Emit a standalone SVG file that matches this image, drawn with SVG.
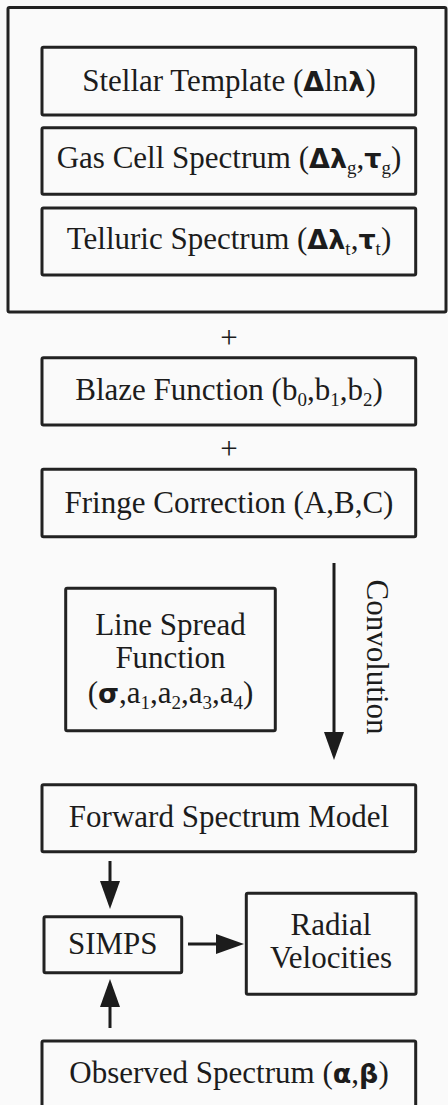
<svg xmlns="http://www.w3.org/2000/svg" width="448" height="1105" viewBox="0 0 448 1105">
  <defs>
    <style>
      .box { fill: none; stroke: #222; stroke-width: 3; }
      .lbl { font-family: "Liberation Serif", "DejaVu Serif", serif; font-size: 31px; fill: #1c1c1c; text-anchor: middle; }
      .gk { font-family: "DejaVu Sans", "Liberation Sans", sans-serif; font-weight: bold; font-size: 27px; }
      .sb { font-size: 19px; }
      .conn { stroke: #1c1c1c; stroke-width: 3; fill: none; }
    </style>
    <marker id="head" markerUnits="userSpaceOnUse" markerWidth="28" markerHeight="20" refX="20" refY="10" orient="auto">
      <path d="M0,0 L28,10 L0,20 Z" fill="#1c1c1c"/>
    </marker>
  </defs>

  <rect x="0" y="0" width="448" height="1105" fill="#fafafa"/>

  <!-- container of the three spectral components -->
  <g id="components">
    <rect class="box" x="8" y="7.5" width="438" height="304.5" rx="1.5"/>
  </g>

  <g id="stellar">
    <rect class="box" x="42" y="47.3" width="373.7" height="67.7" rx="1.5"/>
    <text class="lbl" x="229" y="91">Stellar Template (<tspan class="gk">Δ</tspan>ln<tspan class="gk">λ</tspan>)</text>
  </g>

  <g id="gascell">
    <rect class="box" x="42" y="127.7" width="373.7" height="66.6" rx="1.5"/>
    <text class="lbl" x="229" y="168">Gas Cell Spectrum (<tspan class="gk">Δλ</tspan><tspan class="sb" dy="6">g</tspan><tspan dy="-6">,</tspan><tspan class="gk">τ</tspan><tspan class="sb" dy="6">g</tspan><tspan dy="-6">)</tspan></text>
  </g>

  <g id="telluric">
    <rect class="box" x="42" y="208" width="373.7" height="67" rx="1.5"/>
    <text class="lbl" x="229" y="249">Telluric Spectrum (<tspan class="gk">Δλ</tspan><tspan class="sb" dy="6">t</tspan><tspan dy="-6">,</tspan><tspan class="gk">τ</tspan><tspan class="sb" dy="6">t</tspan><tspan dy="-6">)</tspan></text>
  </g>

  <g id="plus1">
    <text class="lbl" x="229" y="348">+</text>
  </g>

  <g id="blaze">
    <rect class="box" x="42" y="357.7" width="373.7" height="67.3" rx="1.5"/>
    <text class="lbl" x="229" y="400">Blaze Function (b<tspan class="sb" dy="6">0</tspan><tspan dy="-6">,b</tspan><tspan class="sb" dy="6">1</tspan><tspan dy="-6">,b</tspan><tspan class="sb" dy="6">2</tspan><tspan dy="-6">)</tspan></text>
  </g>

  <g id="plus2">
    <text class="lbl" x="229" y="459">+</text>
  </g>

  <g id="fringe">
    <rect class="box" x="42" y="469.3" width="373.7" height="67.4" rx="1.5"/>
    <text class="lbl" x="229" y="513">Fringe Correction (A,B,C)</text>
  </g>

  <g id="lsf">
    <rect class="box" x="65.7" y="588.3" width="209.6" height="142.4" rx="1.5"/>
    <text class="lbl" x="170.5" y="635">Line Spread</text>
    <text class="lbl" x="170.5" y="668">Function</text>
    <text class="lbl" x="170.5" y="703">(<tspan class="gk">σ</tspan>,a<tspan class="sb" dy="6">1</tspan><tspan dy="-6">,a</tspan><tspan class="sb" dy="6">2</tspan><tspan dy="-6">,a</tspan><tspan class="sb" dy="6">3</tspan><tspan dy="-6">,a</tspan><tspan class="sb" dy="6">4</tspan><tspan dy="-6">)</tspan></text>
  </g>

  <g id="convolution-label">
    <text class="lbl" transform="translate(367,657) rotate(90)" x="0" y="0">Convolution</text>
  </g>

  <g id="forward">
    <rect class="box" x="42" y="784.7" width="373.7" height="67" rx="1.5"/>
    <text class="lbl" x="229" y="827">Forward Spectrum Model</text>
  </g>

  <g id="simps">
    <rect class="box" x="44" y="916.7" width="137.7" height="56" rx="1.5"/>
    <text class="lbl" x="112.8" y="954">SIMPS</text>
  </g>

  <g id="radial">
    <rect class="box" x="246.3" y="893.3" width="169.7" height="101" rx="1.5"/>
    <text class="lbl" x="331" y="935">Radial</text>
    <text class="lbl" x="331" y="968">Velocities</text>
  </g>

  <g id="observed">
    <rect class="box" x="42" y="1041" width="373.7" height="80" rx="1.5"/>
    <text class="lbl" x="229" y="1083">Observed Spectrum (<tspan class="gk">α</tspan>,<tspan class="gk">β</tspan>)</text>
  </g>

  <!-- arrows; each line stops 8px short of the tip, the marker finishes it -->
  <g id="connectors">
    <line class="conn" x1="334" y1="563" x2="334" y2="752" marker-end="url(#head)"/>
    <line class="conn" x1="110" y1="861" x2="110" y2="901" marker-end="url(#head)"/>
    <line class="conn" x1="188" y1="944" x2="236" y2="944" marker-end="url(#head)"/>
    <line class="conn" x1="110" y1="1028" x2="110" y2="987" marker-end="url(#head)"/>
  </g>
</svg>
